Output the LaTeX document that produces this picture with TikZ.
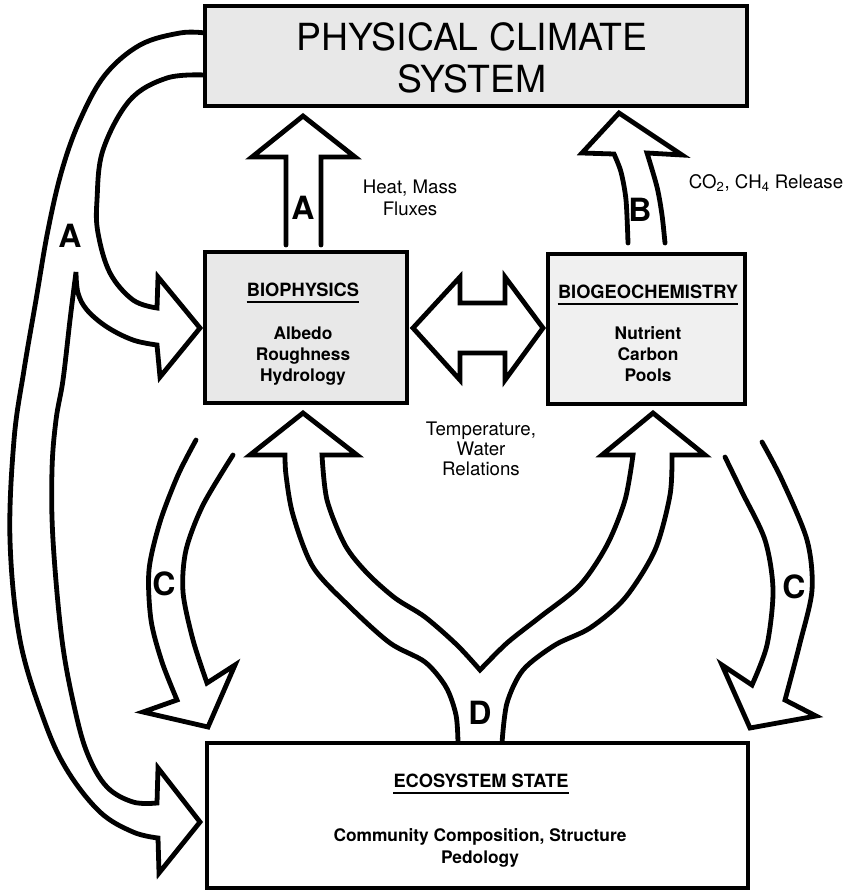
\documentclass[tikz,border=0pt]{standalone}
\usepackage{fontspec}
\setmainfont{TeX Gyre Heros}
\begin{document}
\begin{tikzpicture}[x=0.75pt,y=-0.75pt,
  fat/.style={line width=3.6pt, line cap=round, line join=miter},
  boxline/.style={draw, line width=3pt},
  hdr/.style={font=\bfseries\fontsize{13.7}{16}\selectfont, inner sep=0pt},
  item/.style={font=\bfseries\fontsize{13}{16}\selectfont, align=center, inner sep=0pt},
  lab/.style={font=\fontsize{14}{16.5}\selectfont, align=center, inner sep=0pt},
  lbl/.style={font=\bfseries\fontsize{24}{24}\selectfont, inner sep=0pt},
  ul/.style={line width=1.8pt}]
\useasboundingbox (0,0) rectangle (850,891);

% ---------- big A arrow (physical climate -> biophysics and ecosystem)
\draw[fat] plot[smooth, tension=0.6] coordinates {(205,33) (180,33) (140,45) (105,75) (80,120) (62,170) (48,230) (36,300) (24,370) (14,440) (10,540) (20,640) (44,720) (67,770) (100,812) (133,832) (158,838)}
  -- (159,873) -- (200,822) -- (158,768) -- (157,803)
  -- plot[smooth, tension=0.6] coordinates {(157,803) (133,802) (107,787) (88,755) (75,710) (62,640) (53,540) (52,470) (56,420) (63,380) (70,320) (76,272)}
  -- plot[smooth, tension=0.6] coordinates {(76,272) (78,293) (87,310) (107,327) (133,340) (157,345)}
  -- (160,377) -- (200,328) -- (158,277) -- (157,308)
  -- plot[smooth, tension=0.6] coordinates {(157,308) (133,300) (110,273) (98,233) (97,200) (103,150) (130,100) (167,78) (205,75)};

% ---------- vertical A arrow
\draw[fat] (286,245) -- (286,157) -- (252,157) -- (303,116) -- (355,157) -- (321,157) -- (321,245);

% ---------- B arrow
\draw[fat] plot[smooth] coordinates {(628,243) (626,200) (621,172) (614,154)}
  -- (582,153) -- (619,113) -- (682,155) -- (647,153)
  -- plot[smooth] coordinates {(647,153) (657,187) (662,215) (665,243)};

% ---------- double arrow
\draw[fat] (413,328) -- (460,277) -- (460,303) -- (505,303) -- (505,277) -- (543,328)
  -- (505,380) -- (505,353) -- (460,353) -- (460,380) -- cycle;

% ---------- C arrows
\draw[fat] plot[smooth] coordinates {(196,440) (178,475) (160,522) (149,570) (151,620) (162,662) (177,700)}
  -- (143,712) -- (208,727) -- (235,665) -- (207,683)
  -- plot[smooth] coordinates {(207,683) (193,640) (183,592) (186,550) (203,505) (233,455)};
\draw[fat] plot[smooth] coordinates {(725,457) (742,492) (765,540) (773,590) (767,645) (752,685)}
  -- (722,665) -- (750,728) -- (816,716) -- (785,700)
  -- plot[smooth] coordinates {(785,700) (800,643) (812,590) (807,540) (782,480) (762,442)};

% ---------- D arrow (Y shape)
\draw[fat] plot[smooth] coordinates {(458,743) (456,715) (446,687) (425,662) (390,643) (350,607) (313,567) (293,515) (286,475) (285,455)}
  -- (250,455) -- (303,413) -- (357,455) -- (322,455)
  -- plot[smooth] coordinates {(322,455) (327,500) (345,545) (367,573) (395,598) (425,617) (457,645) (480,670)}
  -- plot[smooth] coordinates {(480,670) (507,643) (540,617) (580,585) (607,545) (625,500) (633,455)}
  -- (602,455) -- (653,413) -- (705,455) -- (672,455)
  -- plot[smooth] coordinates {(672,455) (670,495) (655,550) (625,598) (590,628) (555,645) (523,670) (507,703) (502,743)};

% ---------- boxes
\draw[boxline, fill=black!9] (205,6) rectangle (747,106);
\draw[boxline, fill=black!9] (205,252) rectangle (407,403);
\draw[boxline, fill=black!6] (548,254) rectangle (745,404);
\draw[boxline, fill=white] (207,743) rectangle (748,888);

% ---------- box texts
\node[font=\fontsize{28}{32}\selectfont, align=center, inner sep=0pt] (pcs) at (472,58) {PHYSICAL CLIMATE\\SYSTEM};

\node[hdr] (bph) at (303,290) {BIOPHYSICS};
\draw[ul] ([yshift=-3.8pt]bph.base west) -- ([yshift=-3.8pt]bph.base east);
\node[item] (bpi) at (303,356) {Albedo\\Roughness\\Hydrology};

\node[hdr] (bgh) at (648,292) {BIOGEOCHEMISTRY};
\draw[ul] ([yshift=-3.8pt]bgh.base west) -- ([yshift=-3.8pt]bgh.base east);
\node[item] (bgi) at (648,354) {Nutrient\\Carbon\\Pools};

\node[hdr] (ech) at (481,781) {ECOSYSTEM STATE};
\draw[ul] ([yshift=-3.8pt]ech.base west) -- ([yshift=-3.8pt]ech.base east);
\node[item] (eci) at (480,848) {Community Composition, Structure\\Pedology};

% ---------- side labels
\node[lab] (heat) at (410,198) {Heat, Mass\\Fluxes};
\node[lab] (co2) at (766,183) {CO\textsubscript{2}, CH\textsubscript{4} Release};
\node[lab, font=\fontsize{14}{15}\selectfont] (temp) at (481,449) {Temperature,\\Water\\Relations};

% ---------- arrow letters
\node[lbl] (la1) at (303,208) {A};
\node[lbl] (lb) at (640,210) {B};
\node[lbl] (la2) at (70,236) {A};
\node[lbl] (lc1) at (164,584) {C};
\node[lbl] (lc2) at (794,587) {C};
\node[lbl] (ld) at (480,713) {D};
\end{tikzpicture}
\end{document}
